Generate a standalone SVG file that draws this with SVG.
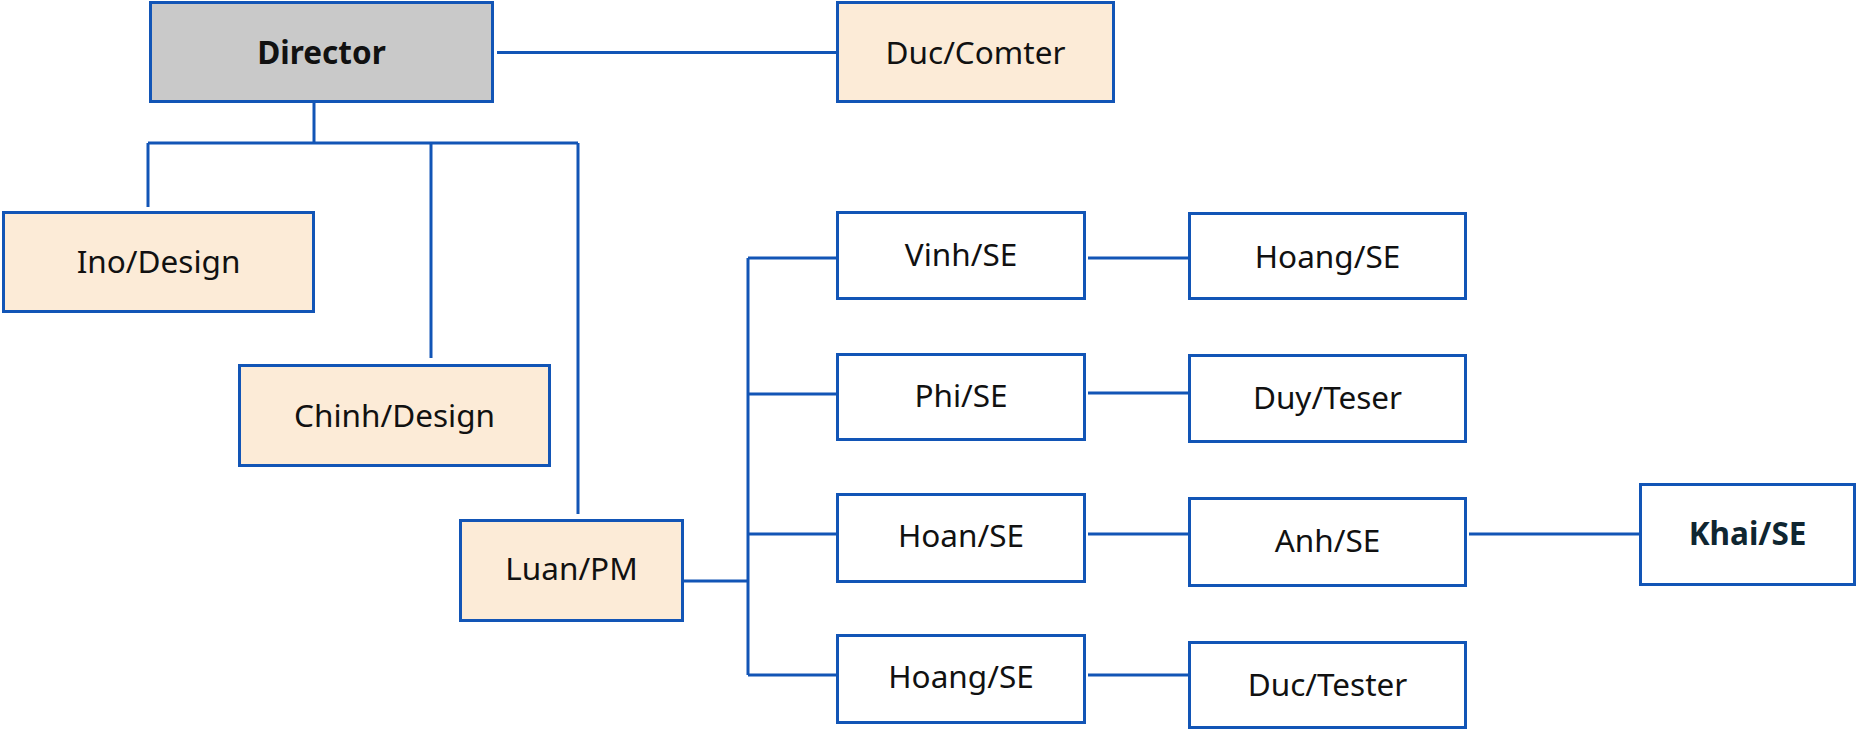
<svg xmlns="http://www.w3.org/2000/svg" width="1857" height="731" viewBox="0 0 1857 731">
<style>
.box{stroke:#1255B6;stroke-width:3;fill:#FFFFFF}
.beige{fill:#FCEBD7}
.gray{fill:#C9C9C9}
.lbl{font-family:"Noto Sans","Open Sans",sans-serif;font-size:31.5px;fill:#111111;text-anchor:middle;dominant-baseline:central}
.bold{font-weight:bold}
.conn path{stroke:#1255B6;stroke-width:3;fill:none}
</style>
<rect width="1857" height="731" fill="#FFFFFF"/>
<g class="conn" id="connectors">
<path d="M497 52.5 H836"/>
<path d="M314 103 V143"/>
<path d="M148 143 H578"/>
<path d="M148 143 V207"/>
<path d="M431 143 V358"/>
<path d="M578 143 V514"/>
<path d="M684 581 H748"/>
<path d="M748 258 V675"/>
<path d="M748 258 H836"/>
<path d="M748 394 H836"/>
<path d="M748 534 H836"/>
<path d="M748 675 H836"/>
<path d="M1088 258 H1188"/>
<path d="M1088 393 H1188"/>
<path d="M1088 534 H1188"/>
<path d="M1088 675 H1188"/>
<path d="M1469 534 H1639"/>
</g>
<g id="director"><rect class="box gray" x="150.5" y="2.5" width="342" height="99"/><text class="lbl bold" x="321.5" y="51">Director</text></g>
<g id="duc-comter"><rect class="box beige" x="837.5" y="2.5" width="276" height="99"/><text class="lbl" x="975.5" y="51">Duc/Comter</text></g>
<g id="ino-design"><rect class="box beige" x="3.5" y="212.5" width="310" height="99"/><text class="lbl" x="158.5" y="260">Ino/Design</text></g>
<g id="chinh-design"><rect class="box beige" x="239.5" y="365.5" width="310" height="100"/><text class="lbl" x="394.5" y="414">Chinh/Design</text></g>
<g id="luan-pm"><rect class="box beige" x="460.5" y="520.5" width="222" height="100"/><text class="lbl" x="571.5" y="567">Luan/PM</text></g>
<g id="vinh-se"><rect class="box" x="837.5" y="212.5" width="247" height="86"/><text class="lbl" x="961" y="253">Vinh/SE</text></g>
<g id="hoang-se-1"><rect class="box" x="1189.5" y="213.5" width="276" height="85"/><text class="lbl" x="1327.5" y="255">Hoang/SE</text></g>
<g id="phi-se"><rect class="box" x="837.5" y="354.5" width="247" height="85"/><text class="lbl" x="961" y="394">Phi/SE</text></g>
<g id="duy-teser"><rect class="box" x="1189.5" y="355.5" width="276" height="86"/><text class="lbl" x="1327.5" y="396">Duy/Teser</text></g>
<g id="hoan-se"><rect class="box" x="837.5" y="494.5" width="247" height="87"/><text class="lbl" x="961" y="534">Hoan/SE</text></g>
<g id="anh-se"><rect class="box" x="1189.5" y="498.5" width="276" height="87"/><text class="lbl" x="1327.5" y="539">Anh/SE</text></g>
<g id="khai-se"><rect class="box" x="1640.5" y="484.5" width="214" height="100"/><text class="lbl bold" x="1747.5" y="532" style="fill:#0F2631">Khai/SE</text></g>
<g id="hoang-se-2"><rect class="box" x="837.5" y="635.5" width="247" height="87"/><text class="lbl" x="961" y="675">Hoang/SE</text></g>
<g id="duc-tester"><rect class="box" x="1189.5" y="642.5" width="276" height="85"/><text class="lbl" x="1327.5" y="683">Duc/Tester</text></g>
</svg>
